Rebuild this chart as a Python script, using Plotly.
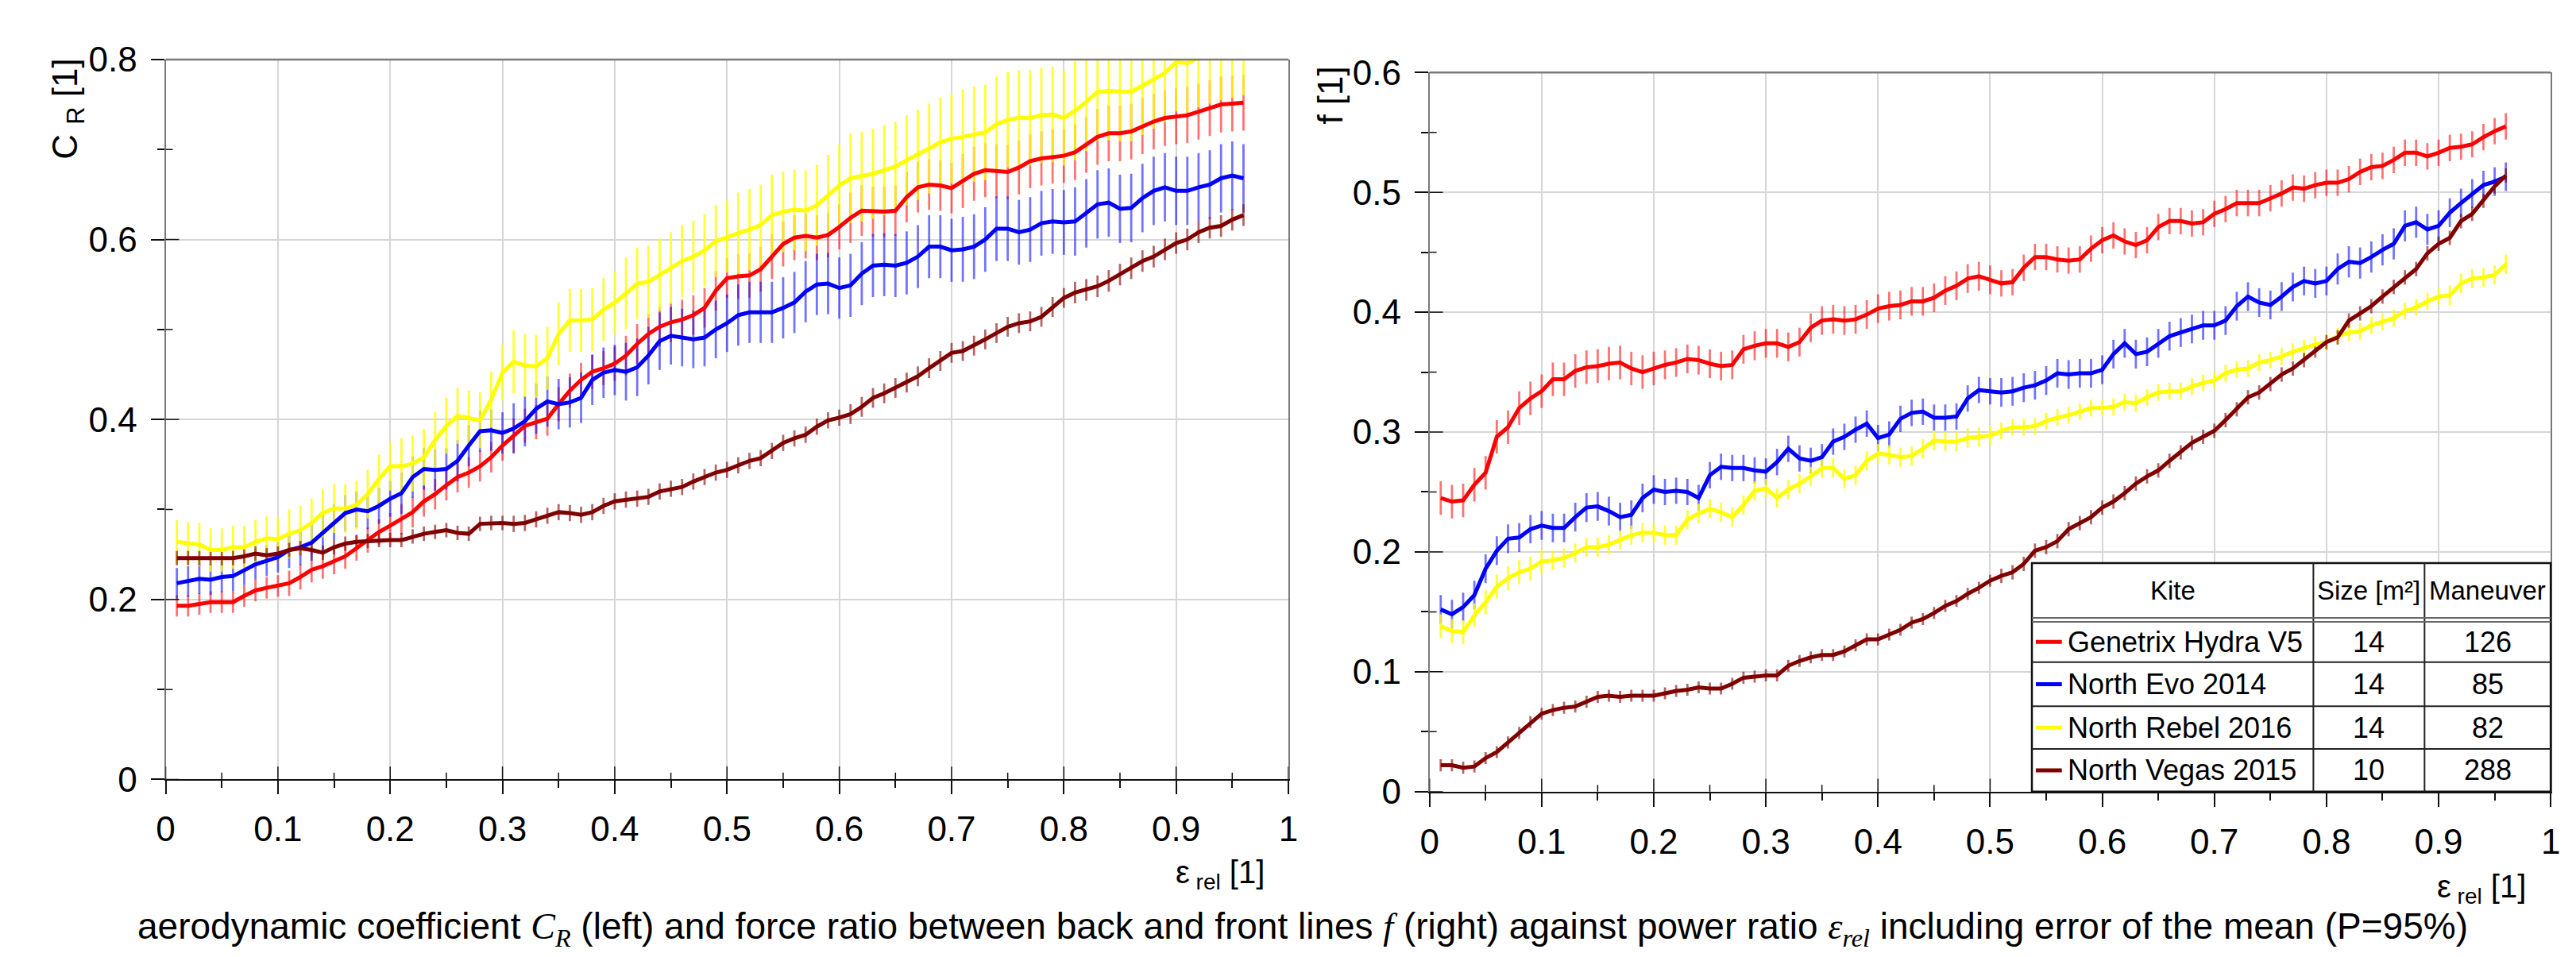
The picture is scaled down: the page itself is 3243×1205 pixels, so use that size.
import plotly.graph_objects as go

W, H = 3243, 1205

# ---------------- data ----------------
EPS = [round(0.01 * k, 2) for k in range(1, 97)]

KITES = ["Genetrix Hydra V5", "North Evo 2014", "North Rebel 2016", "North Vegas 2015"]
SIZES = ["14", "14", "14", "10"]
MANEUVERS = ["126", "85", "82", "288"]

CR_RED = [0.193, 0.193, 0.195, 0.197, 0.197, 0.197, 0.204, 0.210, 0.213, 0.215,
          0.218, 0.225, 0.233, 0.237, 0.242, 0.248, 0.257, 0.266, 0.275, 0.282,
          0.289, 0.297, 0.309, 0.317, 0.327, 0.336, 0.341, 0.348, 0.358, 0.371,
          0.382, 0.393, 0.397, 0.401, 0.417, 0.432, 0.444, 0.453, 0.457, 0.462,
          0.471, 0.484, 0.495, 0.503, 0.508, 0.511, 0.516, 0.524, 0.543, 0.557,
          0.559, 0.560, 0.567, 0.581, 0.595, 0.602, 0.604, 0.602, 0.605, 0.614,
          0.624, 0.632, 0.631, 0.631, 0.632, 0.647, 0.658, 0.661, 0.660, 0.657,
          0.665, 0.673, 0.677, 0.676, 0.675, 0.680, 0.687, 0.690, 0.692, 0.693,
          0.697, 0.705, 0.714, 0.718, 0.718, 0.720, 0.726, 0.731, 0.735, 0.737,
          0.738, 0.742, 0.746, 0.750, 0.751, 0.752]
CR_BLUE = [0.218, 0.220, 0.223, 0.222, 0.225, 0.226, 0.233, 0.239, 0.243, 0.247,
           0.255, 0.258, 0.263, 0.274, 0.286, 0.296, 0.300, 0.298, 0.304, 0.312,
           0.318, 0.336, 0.345, 0.344, 0.345, 0.354, 0.371, 0.387, 0.388, 0.385,
           0.390, 0.398, 0.412, 0.420, 0.417, 0.419, 0.424, 0.444, 0.452, 0.455,
           0.453, 0.458, 0.471, 0.487, 0.493, 0.491, 0.489, 0.491, 0.500, 0.507,
           0.516, 0.519, 0.519, 0.519, 0.524, 0.530, 0.542, 0.550, 0.551, 0.546,
           0.549, 0.562, 0.571, 0.572, 0.571, 0.574, 0.581, 0.592, 0.592, 0.588,
           0.589, 0.592, 0.600, 0.612, 0.612, 0.608, 0.611, 0.618, 0.620, 0.619,
           0.620, 0.629, 0.639, 0.641, 0.634, 0.635, 0.646, 0.654, 0.658, 0.654,
           0.654, 0.658, 0.661, 0.668, 0.671, 0.668]
CR_YELLOW = [0.264, 0.262, 0.261, 0.255, 0.255, 0.258, 0.258, 0.264, 0.268, 0.267,
             0.273, 0.277, 0.285, 0.296, 0.301, 0.301, 0.305, 0.317, 0.334, 0.348,
             0.348, 0.351, 0.358, 0.377, 0.393, 0.404, 0.401, 0.399, 0.422, 0.452,
             0.464, 0.460, 0.459, 0.468, 0.495, 0.510, 0.510, 0.511, 0.522, 0.530,
             0.540, 0.551, 0.553, 0.561, 0.568, 0.576, 0.581, 0.588, 0.598, 0.603,
             0.607, 0.611, 0.616, 0.627, 0.631, 0.633, 0.632, 0.638, 0.649, 0.660,
             0.668, 0.670, 0.673, 0.677, 0.681, 0.688, 0.694, 0.701, 0.708, 0.712,
             0.714, 0.717, 0.719, 0.728, 0.733, 0.735, 0.735, 0.738, 0.739, 0.735,
             0.743, 0.753, 0.764, 0.765, 0.764, 0.764, 0.771, 0.778, 0.785, 0.797,
             0.796, 0.802, 0.806, 0.810, 0.812, 0.815]
CR_BROWN = [0.246, 0.246, 0.246, 0.246, 0.246, 0.246, 0.248, 0.251, 0.249, 0.251,
            0.255, 0.257, 0.255, 0.252, 0.258, 0.262, 0.264, 0.265, 0.266, 0.266,
            0.266, 0.270, 0.273, 0.275, 0.277, 0.274, 0.273, 0.284, 0.285, 0.285,
            0.284, 0.285, 0.289, 0.293, 0.297, 0.296, 0.294, 0.297, 0.304, 0.309,
            0.311, 0.312, 0.314, 0.320, 0.323, 0.325, 0.331, 0.336, 0.341, 0.344,
            0.349, 0.354, 0.357, 0.365, 0.374, 0.379, 0.383, 0.392, 0.399, 0.402,
            0.406, 0.414, 0.424, 0.429, 0.435, 0.441, 0.448, 0.457, 0.465, 0.474,
            0.476, 0.482, 0.489, 0.496, 0.503, 0.507, 0.509, 0.514, 0.525, 0.535,
            0.541, 0.544, 0.548, 0.554, 0.561, 0.568, 0.576, 0.581, 0.589, 0.596,
            0.600, 0.608, 0.613, 0.615, 0.622, 0.627]

CR_RED_ERR = [0.012, 0.012, 0.012, 0.012, 0.012, 0.012, 0.012, 0.012, 0.012, 0.012,
              0.014, 0.014, 0.014, 0.014, 0.014, 0.014, 0.014, 0.014, 0.014, 0.014,
              0.017, 0.017, 0.017, 0.017, 0.017, 0.017, 0.017, 0.017, 0.017, 0.017,
              0.019, 0.019, 0.019, 0.019, 0.019, 0.019, 0.019, 0.019, 0.019, 0.019,
              0.022, 0.022, 0.022, 0.022, 0.022, 0.022, 0.022, 0.022, 0.022, 0.022,
              0.025, 0.025, 0.025, 0.025, 0.025, 0.025, 0.025, 0.025, 0.025, 0.025,
              0.028, 0.028, 0.028, 0.028, 0.028, 0.028, 0.028, 0.028, 0.028, 0.028,
              0.030, 0.030, 0.030, 0.030, 0.030, 0.030, 0.030, 0.030, 0.030, 0.030,
              0.031, 0.031, 0.031, 0.031, 0.031, 0.031, 0.031, 0.031, 0.031, 0.031,
              0.031, 0.031, 0.031, 0.031, 0.031, 0.031]
CR_BLUE_ERR = [0.017, 0.017, 0.017, 0.017, 0.017, 0.017, 0.017, 0.017, 0.017, 0.017,
               0.020, 0.020, 0.020, 0.020, 0.020, 0.020, 0.020, 0.020, 0.020, 0.020,
               0.023, 0.023, 0.023, 0.023, 0.023, 0.023, 0.023, 0.023, 0.023, 0.023,
               0.028, 0.028, 0.028, 0.028, 0.028, 0.028, 0.028, 0.028, 0.028, 0.028,
               0.032, 0.032, 0.032, 0.032, 0.032, 0.032, 0.032, 0.032, 0.032, 0.032,
               0.034, 0.034, 0.034, 0.034, 0.034, 0.034, 0.034, 0.034, 0.034, 0.034,
               0.035, 0.035, 0.035, 0.035, 0.035, 0.035, 0.035, 0.035, 0.035, 0.035,
               0.036, 0.036, 0.036, 0.036, 0.036, 0.036, 0.036, 0.036, 0.036, 0.036,
               0.038, 0.038, 0.038, 0.038, 0.038, 0.038, 0.038, 0.038, 0.038, 0.038,
               0.038, 0.038, 0.038, 0.038, 0.038, 0.038]
CR_YELLOW_ERR = [0.024, 0.024, 0.024, 0.024, 0.024, 0.024, 0.024, 0.024, 0.024, 0.024,
                 0.027, 0.027, 0.027, 0.027, 0.027, 0.027, 0.027, 0.027, 0.027, 0.027,
                 0.031, 0.031, 0.031, 0.031, 0.031, 0.031, 0.031, 0.031, 0.031, 0.031,
                 0.035, 0.035, 0.035, 0.035, 0.035, 0.035, 0.035, 0.035, 0.035, 0.035,
                 0.040, 0.040, 0.040, 0.040, 0.040, 0.040, 0.040, 0.040, 0.040, 0.040,
                 0.045, 0.045, 0.045, 0.045, 0.045, 0.045, 0.045, 0.045, 0.045, 0.045,
                 0.050, 0.050, 0.050, 0.050, 0.050, 0.050, 0.050, 0.050, 0.050, 0.050,
                 0.053, 0.053, 0.053, 0.053, 0.053, 0.053, 0.053, 0.053, 0.053, 0.053,
                 0.055, 0.055, 0.055, 0.055, 0.055, 0.055, 0.055, 0.055, 0.055, 0.055,
                 0.055, 0.055, 0.055, 0.055, 0.055, 0.055]
CR_BROWN_ERR = [0.008, 0.008, 0.008, 0.008, 0.008, 0.008, 0.008, 0.008, 0.008, 0.008,
                0.008, 0.008, 0.008, 0.008, 0.008, 0.008, 0.008, 0.008, 0.008, 0.008,
                0.008, 0.008, 0.008, 0.008, 0.008, 0.008, 0.008, 0.008, 0.008, 0.008,
                0.009, 0.009, 0.009, 0.009, 0.009, 0.009, 0.009, 0.009, 0.009, 0.009,
                0.009, 0.009, 0.009, 0.009, 0.009, 0.009, 0.009, 0.009, 0.009, 0.009,
                0.009, 0.009, 0.009, 0.009, 0.009, 0.009, 0.009, 0.009, 0.009, 0.009,
                0.011, 0.011, 0.011, 0.011, 0.011, 0.011, 0.011, 0.011, 0.011, 0.011,
                0.011, 0.011, 0.011, 0.011, 0.011, 0.011, 0.011, 0.011, 0.011, 0.011,
                0.012, 0.012, 0.012, 0.012, 0.012, 0.012, 0.012, 0.012, 0.012, 0.012,
                0.012, 0.012, 0.012, 0.012, 0.012, 0.012]

F_RED = [0.245, 0.242, 0.243, 0.256, 0.266, 0.296, 0.304, 0.320, 0.328, 0.334,
         0.344, 0.344, 0.351, 0.354, 0.355, 0.357, 0.358, 0.353, 0.350, 0.353,
         0.356, 0.358, 0.361, 0.360, 0.357, 0.355, 0.356, 0.369, 0.372, 0.374,
         0.374, 0.371, 0.375, 0.387, 0.393, 0.394, 0.393, 0.394, 0.398, 0.403,
         0.405, 0.406, 0.409, 0.409, 0.412, 0.418, 0.422, 0.428, 0.430, 0.427,
         0.424, 0.425, 0.437, 0.446, 0.446, 0.444, 0.443, 0.444, 0.453, 0.460,
         0.464, 0.459, 0.456, 0.460, 0.471, 0.476, 0.476, 0.474, 0.475, 0.482,
         0.486, 0.491, 0.491, 0.491, 0.495, 0.499, 0.504, 0.503, 0.506, 0.508,
         0.508, 0.511, 0.517, 0.521, 0.522, 0.527, 0.533, 0.533, 0.530, 0.533,
         0.537, 0.538, 0.540, 0.546, 0.551, 0.555]
F_BLUE = [0.152, 0.148, 0.154, 0.164, 0.186, 0.201, 0.211, 0.212, 0.219, 0.222,
          0.220, 0.220, 0.229, 0.237, 0.238, 0.234, 0.229, 0.231, 0.245, 0.252,
          0.250, 0.251, 0.250, 0.245, 0.264, 0.271, 0.270, 0.270, 0.268, 0.267,
          0.275, 0.286, 0.278, 0.276, 0.279, 0.292, 0.296, 0.302, 0.307, 0.295,
          0.298, 0.311, 0.316, 0.317, 0.312, 0.312, 0.313, 0.328, 0.335, 0.334,
          0.333, 0.334, 0.337, 0.339, 0.343, 0.349, 0.348, 0.349, 0.349, 0.352,
          0.365, 0.374, 0.365, 0.367, 0.374, 0.380, 0.383, 0.386, 0.389, 0.389,
          0.393, 0.405, 0.413, 0.408, 0.406, 0.413, 0.421, 0.426, 0.424, 0.426,
          0.436, 0.442, 0.441, 0.446, 0.452, 0.457, 0.472, 0.475, 0.469, 0.472,
          0.483, 0.491, 0.499, 0.506, 0.509, 0.513]
F_YELLOW = [0.138, 0.134, 0.133, 0.147, 0.158, 0.171, 0.178, 0.183, 0.186, 0.192,
            0.193, 0.195, 0.199, 0.204, 0.204, 0.206, 0.210, 0.214, 0.216, 0.216,
            0.214, 0.214, 0.227, 0.232, 0.236, 0.233, 0.229, 0.239, 0.251, 0.253,
            0.245, 0.252, 0.257, 0.263, 0.270, 0.270, 0.261, 0.264, 0.276, 0.282,
            0.281, 0.279, 0.280, 0.286, 0.293, 0.292, 0.292, 0.295, 0.296, 0.297,
            0.301, 0.304, 0.304, 0.305, 0.309, 0.312, 0.314, 0.317, 0.320, 0.320,
            0.321, 0.325, 0.324, 0.329, 0.333, 0.334, 0.334, 0.338, 0.341, 0.343,
            0.349, 0.352, 0.353, 0.358, 0.360, 0.363, 0.367, 0.370, 0.373, 0.375,
            0.380, 0.383, 0.384, 0.389, 0.392, 0.395, 0.401, 0.404, 0.409, 0.413,
            0.414, 0.424, 0.428, 0.429, 0.431, 0.440]
F_BROWN = [0.022, 0.022, 0.020, 0.021, 0.028, 0.033, 0.041, 0.049, 0.058, 0.065,
           0.068, 0.070, 0.071, 0.075, 0.079, 0.080, 0.079, 0.080, 0.080, 0.080,
           0.082, 0.084, 0.085, 0.087, 0.086, 0.086, 0.090, 0.095, 0.096, 0.097,
           0.097, 0.105, 0.109, 0.112, 0.114, 0.114, 0.117, 0.122, 0.127, 0.127,
           0.131, 0.135, 0.141, 0.144, 0.149, 0.155, 0.159, 0.165, 0.170, 0.176,
           0.180, 0.183, 0.190, 0.201, 0.204, 0.209, 0.219, 0.224, 0.229, 0.237,
           0.242, 0.249, 0.257, 0.263, 0.268, 0.276, 0.283, 0.291, 0.296, 0.301,
           0.310, 0.319, 0.329, 0.333, 0.340, 0.348, 0.353, 0.360, 0.368, 0.375,
           0.379, 0.393, 0.399, 0.405, 0.413, 0.421, 0.429, 0.436, 0.449, 0.457,
           0.462, 0.476, 0.482, 0.493, 0.505, 0.514]

F_RED_ERR = [0.014, 0.014, 0.014, 0.014, 0.014, 0.014, 0.014, 0.014, 0.014, 0.014,
             0.014, 0.014, 0.014, 0.014, 0.014, 0.014, 0.014, 0.014, 0.014, 0.014,
             0.012, 0.012, 0.012, 0.012, 0.012, 0.012, 0.012, 0.012, 0.012, 0.012,
             0.012, 0.012, 0.012, 0.012, 0.012, 0.012, 0.012, 0.012, 0.012, 0.012,
             0.012, 0.012, 0.012, 0.012, 0.012, 0.012, 0.012, 0.012, 0.012, 0.012,
             0.011, 0.011, 0.011, 0.011, 0.011, 0.011, 0.011, 0.011, 0.011, 0.011,
             0.011, 0.011, 0.011, 0.011, 0.011, 0.011, 0.011, 0.011, 0.011, 0.011,
             0.011, 0.011, 0.011, 0.011, 0.011, 0.011, 0.011, 0.011, 0.011, 0.011,
             0.011, 0.011, 0.011, 0.011, 0.011, 0.011, 0.011, 0.011, 0.011, 0.011,
             0.011, 0.011, 0.011, 0.011, 0.011, 0.011]
F_BLUE_ERR = [0.012, 0.012, 0.012, 0.012, 0.012, 0.012, 0.012, 0.012, 0.012, 0.012,
              0.012, 0.012, 0.012, 0.012, 0.012, 0.012, 0.012, 0.012, 0.012, 0.012,
              0.011, 0.011, 0.011, 0.011, 0.011, 0.011, 0.011, 0.011, 0.011, 0.011,
              0.011, 0.011, 0.011, 0.011, 0.011, 0.011, 0.011, 0.011, 0.011, 0.011,
              0.011, 0.011, 0.011, 0.011, 0.011, 0.011, 0.011, 0.011, 0.011, 0.011,
              0.012, 0.012, 0.012, 0.012, 0.012, 0.012, 0.012, 0.012, 0.012, 0.012,
              0.012, 0.012, 0.012, 0.012, 0.012, 0.012, 0.012, 0.012, 0.012, 0.012,
              0.012, 0.012, 0.012, 0.012, 0.012, 0.012, 0.012, 0.012, 0.012, 0.012,
              0.013, 0.013, 0.013, 0.013, 0.013, 0.013, 0.013, 0.013, 0.013, 0.013,
              0.012, 0.012, 0.012, 0.012, 0.012, 0.012]
F_YELLOW_ERR = [0.010, 0.010, 0.010, 0.010, 0.010, 0.010, 0.010, 0.010, 0.010, 0.010,
                0.008, 0.008, 0.008, 0.008, 0.008, 0.008, 0.008, 0.008, 0.008, 0.008,
                0.008, 0.008, 0.008, 0.008, 0.008, 0.008, 0.008, 0.008, 0.008, 0.008,
                0.008, 0.008, 0.008, 0.008, 0.008, 0.008, 0.008, 0.008, 0.008, 0.008,
                0.008, 0.008, 0.008, 0.008, 0.008, 0.008, 0.008, 0.008, 0.008, 0.008,
                0.007, 0.007, 0.007, 0.007, 0.007, 0.007, 0.007, 0.007, 0.007, 0.007,
                0.007, 0.007, 0.007, 0.007, 0.007, 0.007, 0.007, 0.007, 0.007, 0.007,
                0.007, 0.007, 0.007, 0.007, 0.007, 0.007, 0.007, 0.007, 0.007, 0.007,
                0.007, 0.007, 0.007, 0.007, 0.007, 0.007, 0.007, 0.007, 0.007, 0.007,
                0.008, 0.008, 0.008, 0.008, 0.008, 0.008]
F_BROWN_ERR = [0.005, 0.005, 0.005, 0.005, 0.005, 0.005, 0.005, 0.005, 0.005, 0.005,
               0.005, 0.005, 0.005, 0.005, 0.005, 0.005, 0.005, 0.005, 0.005, 0.005,
               0.005, 0.005, 0.005, 0.005, 0.005, 0.005, 0.005, 0.005, 0.005, 0.005,
               0.005, 0.005, 0.005, 0.005, 0.005, 0.005, 0.005, 0.005, 0.005, 0.005,
               0.005, 0.005, 0.005, 0.005, 0.005, 0.005, 0.005, 0.005, 0.005, 0.005,
               0.006, 0.006, 0.006, 0.006, 0.006, 0.006, 0.006, 0.006, 0.006, 0.006,
               0.006, 0.006, 0.006, 0.006, 0.006, 0.006, 0.006, 0.006, 0.006, 0.006,
               0.006, 0.006, 0.006, 0.006, 0.006, 0.006, 0.006, 0.006, 0.006, 0.006,
               0.006, 0.006, 0.006, 0.006, 0.006, 0.006, 0.006, 0.006, 0.006, 0.006,
               0.006, 0.006, 0.006, 0.006, 0.006, 0.006]

X_MAJOR = [0, 0.1, 0.2, 0.3, 0.4, 0.5, 0.6, 0.7, 0.8, 0.9, 1.0]
X_MINOR = [0.05, 0.15, 0.25, 0.35, 0.45, 0.55, 0.65, 0.75, 0.85, 0.95]
CR_MAJOR = [0, 0.2, 0.4, 0.6, 0.8]
CR_MINOR = [0.1, 0.3, 0.5, 0.7]
F_MAJOR = [0, 0.1, 0.2, 0.3, 0.4, 0.5, 0.6]
F_MINOR = [0.05, 0.15, 0.25, 0.35, 0.45, 0.55]

# ---------------- style ----------------
LINE_COLORS = ["#ff0000", "#0000ff", "#ffff00", "#800000"]
BAR_COLORS = ["rgba(255,0,0,0.55)", "rgba(0,0,255,0.55)",
              "rgba(255,255,0,0.8)", "rgba(128,0,0,0.6)"]
FONT = "Liberation Sans, Arial, sans-serif"
SERIF = "Liberation Serif, Times New Roman, serif"


def px(x):
    return x / W


def py(y):
    return 1 - y / H


# plot-area pixel boxes (left, top, right, bottom)
L_BOX = (198, 52, 1622, 997)
R_BOX = (1801, 69, 3223, 1013)

fig = go.Figure()

panels = [
    ("x", "y", [CR_RED, CR_BLUE, CR_YELLOW, CR_BROWN],
     [CR_RED_ERR, CR_BLUE_ERR, CR_YELLOW_ERR, CR_BROWN_ERR]),
    ("x2", "y2", [F_RED, F_BLUE, F_YELLOW, F_BROWN],
     [F_RED_ERR, F_BLUE_ERR, F_YELLOW_ERR, F_BROWN_ERR]),
]

for xa, ya, series, errs in panels:
    for i, (vals, err) in enumerate(zip(series, errs)):
        fig.add_trace(go.Scatter(
            x=EPS, y=vals, xaxis=xa, yaxis=ya, mode="markers",
            marker=dict(size=1, color="rgba(0,0,0,0)"),
            error_y=dict(type="data", array=err, visible=True,
                         color=BAR_COLORS[i], thickness=2.8, width=0),
            hoverinfo="skip", showlegend=False))
    for i, vals in enumerate(series):
        fig.add_trace(go.Scatter(
            x=EPS, y=vals, xaxis=xa, yaxis=ya, mode="lines",
            line=dict(color=LINE_COLORS[i], width=5),
            name=KITES[i], showlegend=False))

tickfont = dict(family=FONT, size=44, color="black")


def xaxis_cfg(box, anchor):
    return dict(
        domain=[px(box[0]), px(box[2])], range=[0, 1], anchor=anchor,
        tickmode="array", tickvals=X_MAJOR, ticktext=[f"{v:g}" for v in X_MAJOR],
        ticks="outside", ticklen=17, tickwidth=1.5, tickcolor="#111",
        minor=dict(tickmode="array", tickvals=X_MINOR, ticks="outside",
                   ticklen=9, tickwidth=1.5, tickcolor="#111", showgrid=False),
        showgrid=True, gridcolor="#d6d6d6", gridwidth=1.5,
        showline=True, linecolor="#111", linewidth=2, zeroline=False,
        tickfont=tickfont, ticklabelstandoff=6, fixedrange=True)


def yaxis_cfg(box, anchor, rng, major, minor):
    return dict(
        domain=[py(box[3]), py(box[1])], range=rng, anchor=anchor,
        tickmode="array", tickvals=major, ticktext=[f"{v:g}" for v in major],
        ticks="outside", ticklen=17, tickwidth=1.5, tickcolor="#111",
        minor=dict(tickmode="array", tickvals=minor, ticks="outside",
                   ticklen=9, tickwidth=1.5, tickcolor="#111", showgrid=False),
        showgrid=True, gridcolor="#d6d6d6", gridwidth=1.5,
        showline=True, linecolor="#7a7a7a", linewidth=2, mirror=True,
        zeroline=False, tickfont=tickfont, ticklabelstandoff=8, fixedrange=True)


shapes = []


def inside_ticks(xa, ya, box, xmaj, xmin, ymaj, ymin):
    pw = box[2] - box[0]
    ph = box[3] - box[1]
    for vals, ln in ((xmaj, 17), (xmin, 9)):
        for v in vals:
            shapes.append(dict(type="line", xref=xa, yref=f"{ya} domain",
                               x0=v, x1=v, y0=0, y1=ln / ph,
                               line=dict(color="#111", width=1.5)))
    for vals, ln in ((ymaj, 17), (ymin, 9)):
        for v in vals:
            shapes.append(dict(type="line", xref=f"{xa} domain", yref=ya,
                               x0=0, x1=ln / pw, y0=v, y1=v,
                               line=dict(color="#111", width=1.5)))
    shapes.append(dict(type="line", xref=f"{xa} domain", yref=f"{ya} domain",
                       x0=0, x1=1, y0=1, y1=1,
                       line=dict(color="#7a7a7a", width=2.5)))


inside_ticks("x", "y", L_BOX, X_MAJOR, X_MINOR, CR_MAJOR, CR_MINOR)
inside_ticks("x2", "y2", R_BOX, X_MAJOR, X_MINOR, F_MAJOR, F_MINOR)

# ---------------- legend table ----------------
TX0, TX1, TY0, TY1 = 2565, 3223, 713, 1013
COL1, COL2 = 2922, 3063
HDR = 785
ROWS = [HDR + 5, 843, 901, 957, TY1]

shapes.append(dict(type="rect", xref="paper", yref="paper",
                   x0=px(TX0), x1=px(TX1), y0=py(TY1), y1=py(TY0),
                   fillcolor="white", line=dict(color="#111", width=2.5),
                   layer="above"))
for cx in (COL1, COL2):
    shapes.append(dict(type="line", xref="paper", yref="paper",
                       x0=px(cx), x1=px(cx), y0=py(TY1), y1=py(TY0),
                       line=dict(color="#222", width=2), layer="above"))
for hy in (HDR, HDR + 5):
    shapes.append(dict(type="line", xref="paper", yref="paper",
                       x0=px(TX0), x1=px(TX1), y0=py(hy), y1=py(hy),
                       line=dict(color="#666", width=2), layer="above"))
for ry in ROWS[1:-1]:
    shapes.append(dict(type="line", xref="paper", yref="paper",
                       x0=px(TX0), x1=px(TX1), y0=py(ry), y1=py(ry),
                       line=dict(color="#222", width=2), layer="above"))

annotations = []
tfont = dict(family=FONT, size=36, color="black")
hfont = dict(family=FONT, size=33, color="black")
hy_c = (TY0 + HDR) / 2
for txt, cx in (("Kite", (TX0 + COL1) / 2), ("Size [m²]", (COL1 + COL2) / 2),
                ("Maneuver", (COL2 + TX1) / 2)):
    annotations.append(dict(text=txt, x=px(cx), y=py(hy_c), xref="paper",
                            yref="paper", showarrow=False, xanchor="center",
                            yanchor="middle", font=hfont))
for i in range(4):
    rc = (ROWS[i] + ROWS[i + 1]) / 2
    shapes.append(dict(type="line", xref="paper", yref="paper",
                       x0=px(2570), x1=px(2603), y0=py(rc), y1=py(rc),
                       line=dict(color=LINE_COLORS[i], width=5), layer="above"))
    annotations.append(dict(text=KITES[i], x=px(2608), y=py(rc), xref="paper",
                            yref="paper", showarrow=False, xanchor="left",
                            yanchor="middle", font=tfont))
    annotations.append(dict(text=SIZES[i], x=px((COL1 + COL2) / 2), y=py(rc),
                            xref="paper", yref="paper", showarrow=False,
                            xanchor="center", yanchor="middle", font=tfont))
    annotations.append(dict(text=MANEUVERS[i], x=px((COL2 + TX1) / 2), y=py(rc),
                            xref="paper", yref="paper", showarrow=False,
                            xanchor="center", yanchor="middle", font=tfont))

# ---------------- axis titles and caption ----------------
tt = dict(family=FONT, size=44, color="black")
xt = dict(family=FONT, size=40, color="black")
annotations += [
    dict(text="C <sub>R</sub> [1]", x=px(74), y=py(117), textangle=-90,
         xref="paper", yref="paper", showarrow=False, xanchor="center",
         yanchor="middle", font=tt),
    dict(text="f [1]", x=px(1675), y=py(99), textangle=-90,
         xref="paper", yref="paper", showarrow=False, xanchor="center",
         yanchor="middle", font=tt),
    dict(text="ε<sub> rel</sub> [1]", x=px(1594), y=py(1122),
         xref="paper", yref="paper", showarrow=False, xanchor="right",
         yanchor="middle", font=xt),
    dict(text="ε<sub> rel</sub> [1]", x=px(3194), y=py(1140),
         xref="paper", yref="paper", showarrow=False, xanchor="right",
         yanchor="middle", font=xt),
    dict(text=("aerodynamic coefficient "
               f"<span style='font-family:{SERIF}'><i>C</i><sub><i>R</i></sub></span>"
               " (left) and force ratio between back and front lines "
               f"<span style='font-family:{SERIF}'><i>f</i></span>"
               " (right) against power ratio "
               f"<span style='font-family:{SERIF}'><i>ε</i><sub><i>rel</i></sub></span>"
               " including error of the mean (P=95%)"),
         x=px(1640), y=py(1193), xref="paper", yref="paper", showarrow=False,
         xanchor="center", yanchor="middle",
         font=dict(family=FONT, size=46, color="black")),
]

fig.update_layout(
    width=W, height=H,
    margin=dict(l=0, r=0, t=0, b=0),
    paper_bgcolor="white", plot_bgcolor="white",
    showlegend=False,
    xaxis=xaxis_cfg(L_BOX, "y"),
    yaxis=yaxis_cfg(L_BOX, "x", [0, 0.8], CR_MAJOR, CR_MINOR),
    xaxis2=xaxis_cfg(R_BOX, "y2"),
    yaxis2=yaxis_cfg(R_BOX, "x2", [0, 0.6], F_MAJOR, F_MINOR),
    shapes=shapes,
    annotations=annotations,
    font=dict(family=FONT),
)

fig.write_html("out.html",
               config={"displayModeBar": False},
               post_script="document.body.style.margin='0';"
                           "document.body.style.overflow='hidden';")
